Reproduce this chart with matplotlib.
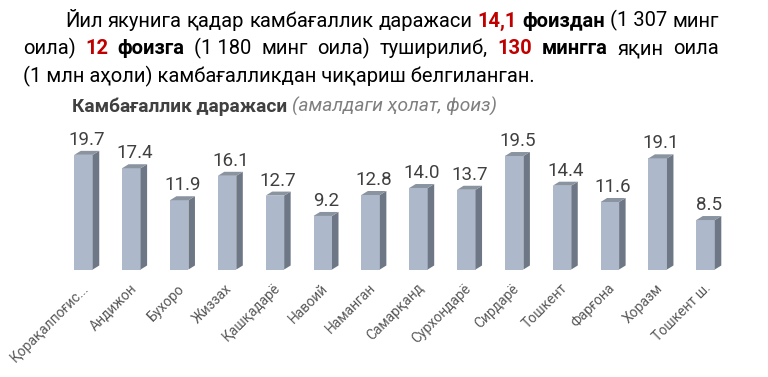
import matplotlib
matplotlib.use("Agg")
import matplotlib.pyplot as plt
from matplotlib.patches import Polygon
import numpy as np

plt.rcParams['font.family'] = ['Roboto', 'Noto Sans', 'DejaVu Sans']

regions = ["Қорақалпоғис...", "Андижон", "Бухоро", "Жиззах", "Қашқадарё", "Навоий",
           "Наманган", "Самарқанд", "Сурхондарё", "Сирдарё", "Тошкент", "Фарғона",
           "Хоразм", "Тошкент ш."]
poverty = [19.7, 17.4, 11.9, 16.1, 12.7, 9.2, 12.8, 14.0, 13.7, 19.5, 14.4, 11.6, 19.1, 8.5]

title_bold = "Камбағаллик даражаси"
title_italic = "(амалдаги ҳолат, фоиз)"

RED = "#C00000"
para_lines = [
    [("Йил", "k", "normal"), ("якунига", "k", "normal"), ("қадар", "k", "normal"),
     ("камбағаллик", "k", "normal"), ("даражаси", "k", "normal"), ("14,1", RED, "bold"),
     ("фоиздан", "k", "bold"), ("(1 307", "k", "normal"), ("минг", "k", "normal")],
    [("оила)", "k", "normal"), ("12", RED, "bold"), ("фоизга", "k", "bold"),
     ("(1 180", "k", "normal"), ("минг", "k", "normal"), ("оила)", "k", "normal"),
     ("туширилиб,", "k", "normal"), ("130", RED, "bold"), ("мингга", "k", "bold"),
     ("яқин", "k", "normal"), ("оила", "k", "normal")],
    [("(1 млн аҳоли) камбағалликдан чиқариш белгиланган.", "k", "normal")],
]

W, H = 768, 377
fig = plt.figure(figsize=(W / 100, H / 100), dpi=100)
fig.patch.set_facecolor("white")

# ---- paragraph text (justified) ----
line_specs = [(65, 719, 26.7, True), (22.7, 719, 54.3, True), (22.7, 719, 82.7, False)]
fs_para = 14.5
renderer = fig.canvas.get_renderer()
for tokens, (x0, x1, yb, justify) in zip(para_lines, line_specs):
    texts = []
    for s, c, w in tokens:
        t = fig.text(0, 1 - yb / H, s, color=c, fontweight=w, fontsize=fs_para,
                     va="baseline", ha="left")
        texts.append(t)
    widths = [t.get_window_extent(renderer).width for t in texts]
    if justify and len(texts) > 1:
        gap = (x1 - x0 - sum(widths)) / (len(texts) - 1)
    else:
        gap = 5
    x = x0
    for t, wdt in zip(texts, widths):
        t.set_x(x / W)
        x += wdt + gap

# ---- title ----
tb = fig.text(72 / W, 1 - 111.7 / H, title_bold + " ", color="#404040", fontweight="bold",
              fontsize=13.8, va="baseline", ha="left")
wb = tb.get_window_extent(renderer).width
fig.text((72 + wb) / W, 1 - 111.7 / H, title_italic, color="#7F7F7F", fontstyle="italic",
         fontsize=13.8, va="baseline", ha="left")

# ---- 3D-style bars ----
n = len(poverty)
base_px = 269.5           # baseline y pixel from top
px_per_unit = 5.82
spacing = 47.85
first_center = 83.5
ax_bottom = (H - base_px) / H
ax_h_px = 150
ax = fig.add_axes([0, ax_bottom, 1, ax_h_px / H])
ax.set_xlim(-first_center / spacing, (W - first_center) / spacing)
ax.set_ylim(0, ax_h_px / px_per_unit)
ax.axis("off")

bw = 18.5 / spacing
dx = 6.5 / spacing
dy = 4.0 / px_per_unit
xs = np.arange(n)
front = "#ADB8CA"
side = "#6E7785"
top = "#8A94A1"

ax.bar(xs, poverty, width=bw, color=front, edgecolor="none", zorder=2)
for x, v in zip(xs, poverty):
    xl, xr = x - bw / 2, x + bw / 2
    ax.add_patch(Polygon([(xr, 0), (xr + dx, dy), (xr + dx, v + dy), (xr, v)],
                         closed=True, facecolor=side, edgecolor="none", zorder=2))
    ax.add_patch(Polygon([(xl, v), (xr, v), (xr + dx, v + dy), (xl + dx, v + dy)],
                         closed=True, facecolor=top, edgecolor="none", zorder=2))
    ax.annotate(f"{v:.1f}", (x + dx / 2, v + dy), xytext=(0, 1.5), textcoords="offset points",
                ha="center", va="bottom", fontsize=13.5, color="#404040",
                annotation_clip=False)
    ax.annotate(regions[x], (x, 0), xytext=(2, -12), textcoords="offset points",
                ha="right", va="center", rotation=45, rotation_mode="anchor",
                fontsize=10, color="#595959", annotation_clip=False)

fig.savefig("out.png", dpi=100, facecolor="white")
